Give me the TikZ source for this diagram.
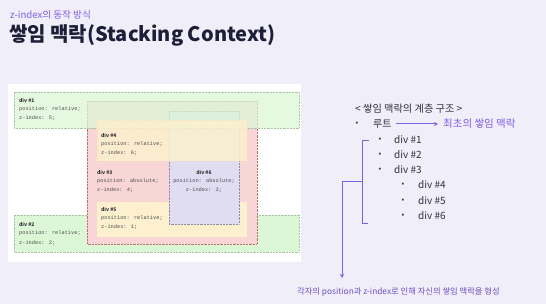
\documentclass[tikz,border=0pt]{standalone}
\usepackage{fontspec}
\setmainfont{Noto Sans CJK KR}
\newfontfamily\monof{Liberation Mono}
\usetikzlibrary{arrows.meta,calc}
\definecolor{bgc}{RGB}{239,238,249}
\definecolor{accent}{RGB}{128,96,226}
\definecolor{titlec}{RGB}{30,30,56}
\definecolor{listc}{RGB}{50,50,62}
\definecolor{gfc}{RGB}{220,247,214}
\definecolor{glc}{RGB}{170,195,160}
\definecolor{rfc}{RGB}{248,214,214}
\definecolor{rlc}{RGB}{190,110,110}
\definecolor{yfc}{RGB}{252,240,207}
\definecolor{pfc}{RGB}{224,220,242}
\definecolor{plc}{RGB}{140,140,170}
\begin{document}
\begin{tikzpicture}[x=1pt,y=-1pt,
  code/.style={font=\monof\fontsize{5.3}{6}\selectfont, text=black!70, anchor=west, inner sep=0},
  lbl/.style={font=\bfseries\fontsize{5}{6}\selectfont, text=black!80, anchor=west, inner sep=0},
  codec/.style={code, anchor=center},
  lblc/.style={lbl, anchor=center},
  listtxt/.style={font=\fontsize{10}{12}\selectfont, text=listc, anchor=west, inner sep=0},
  bul/.style={font=\fontsize{8}{10}\selectfont, text=listc, anchor=center, inner sep=0},
  dotline/.style={densely dotted, line width=0.45pt},
  pline/.style={draw=accent, line width=1pt}
]
\fill[bgc] (0,0) rectangle (546,304);
\useasboundingbox (0,0) rectangle (546,304);

% titles
\node[anchor=west, inner sep=0, text=accent, font=\fontsize{9.6}{12}\selectfont] (sub) at (10,15) {z-index의 동작 방식};
\node[anchor=west, inner sep=0, text=titlec, font=\bfseries\fontsize{20}{24}\selectfont] (title) at (9,35) {쌓임 맥락(Stacking Context)};

% screenshot panel
\fill[white] (8,84) rectangle (301,262);
% div2
\filldraw[fill=gfc, draw=glc, dotline] (14,215) rectangle (299,252);
% div3
\filldraw[fill=rfc, draw=rlc, dotline] (87,101) rectangle (257,244);
% div5
\fill[yfc] (97,202) rectangle (247,237);
% div6
\filldraw[fill=pfc, draw=plc, dotline] (169,111) rectangle (239,224);
% div1
\filldraw[fill=gfc, fill opacity=0.75, draw=glc, dotline] (14,92) rectangle (299,128);
% div4
\filldraw[fill=yfc, fill opacity=0.85, draw=yfc!80!orange, draw opacity=0.4, dotline] (97,120) rectangle (247,161);

% div texts
\node[lbl] (d1a) at (19,100) {div \#1};
\node[code] (d1b) at (19,109) {position: relative;};
\node[code] (d1c) at (19,118) {z-index: 5;};

\node[lbl] (d4a) at (101,135) {div \#4};
\node[code] (d4b) at (101,144) {position: relative;};
\node[code] (d4c) at (101,153) {z-index: 6;};

\node[lbl] (d3a) at (97,172) {div \#3};
\node[code] (d3b) at (97,181) {position: absolute;};
\node[code] (d3c) at (97,190) {z-index: 4;};

\node[lblc] (d6a) at (204,172) {div \#6};
\node[codec] (d6b) at (204,181) {position: absolute;};
\node[codec] (d6c) at (204,190) {z-index: 3;};

\node[lbl] (d5a) at (101,209) {div \#5};
\node[code] (d5b) at (101,218) {position: relative;};
\node[code] (d5c) at (101,227) {z-index: 1;};

\node[lbl] (d2a) at (19,224) {div \#2};
\node[code] (d2b) at (19,233) {position: relative;};
\node[code] (d2c) at (19,243) {z-index: 2;};

% hierarchy list
\node[listtxt, font=\fontsize{10.2}{12}\selectfont] (hdr) at (355,109) {< 쌓임 맥락의 계층 구조 >};
\node[bul] (b0) at (357,124) {•};
\node[listtxt] (root) at (373,124) {루트};
\node[listtxt, text=accent, font=\fontsize{10.5}{12}\selectfont] (first) at (443,124) {최초의 쌓임 맥락};
\draw[pline, -{Stealth[length=4pt,width=4pt]}] ($(root.east)+(4,0)$) coordinate (ra) -- ($(first.west)+(-5,0)$) coordinate (rb);

\node[bul] (b1) at (380,140) {•};
\node[listtxt] (l1) at (394,140) {div \#1};
\node[bul] (b2) at (380,155) {•};
\node[listtxt] (l2) at (394,155) {div \#2};
\node[bul] (b3) at (380,170) {•};
\node[listtxt] (l3) at (394,170) {div \#3};
\node[bul] (b4) at (403,185) {•};
\node[listtxt] (l4) at (418,185) {div \#4};
\node[bul] (b5) at (403,201) {•};
\node[listtxt] (l5) at (418,201) {div \#5};
\node[bul] (b6) at (403,216) {•};
\node[listtxt] (l6) at (418,216) {div \#6};

% bracket
\coordinate (bt) at (369,141);
\coordinate (bb) at (368,224);
\coordinate (bm) at (362,182);
\draw[pline] (bt) -- (362,141) -- (362,224) -- (bb);

% bottom text and arrow
\node[anchor=west, inner sep=0, text=accent!85!black, font=\fontsize{8.3}{10}\selectfont] (concl) at (297,292) {각자의 position과 z-index로 인해 자신의 쌓임 맥락을 형성};
\coordinate (tip) at (342,278);
\draw[pline, -{Stealth[length=4pt,width=4pt]}] (bm) -- (342,182) -- (tip);
\end{tikzpicture}
\end{document}
